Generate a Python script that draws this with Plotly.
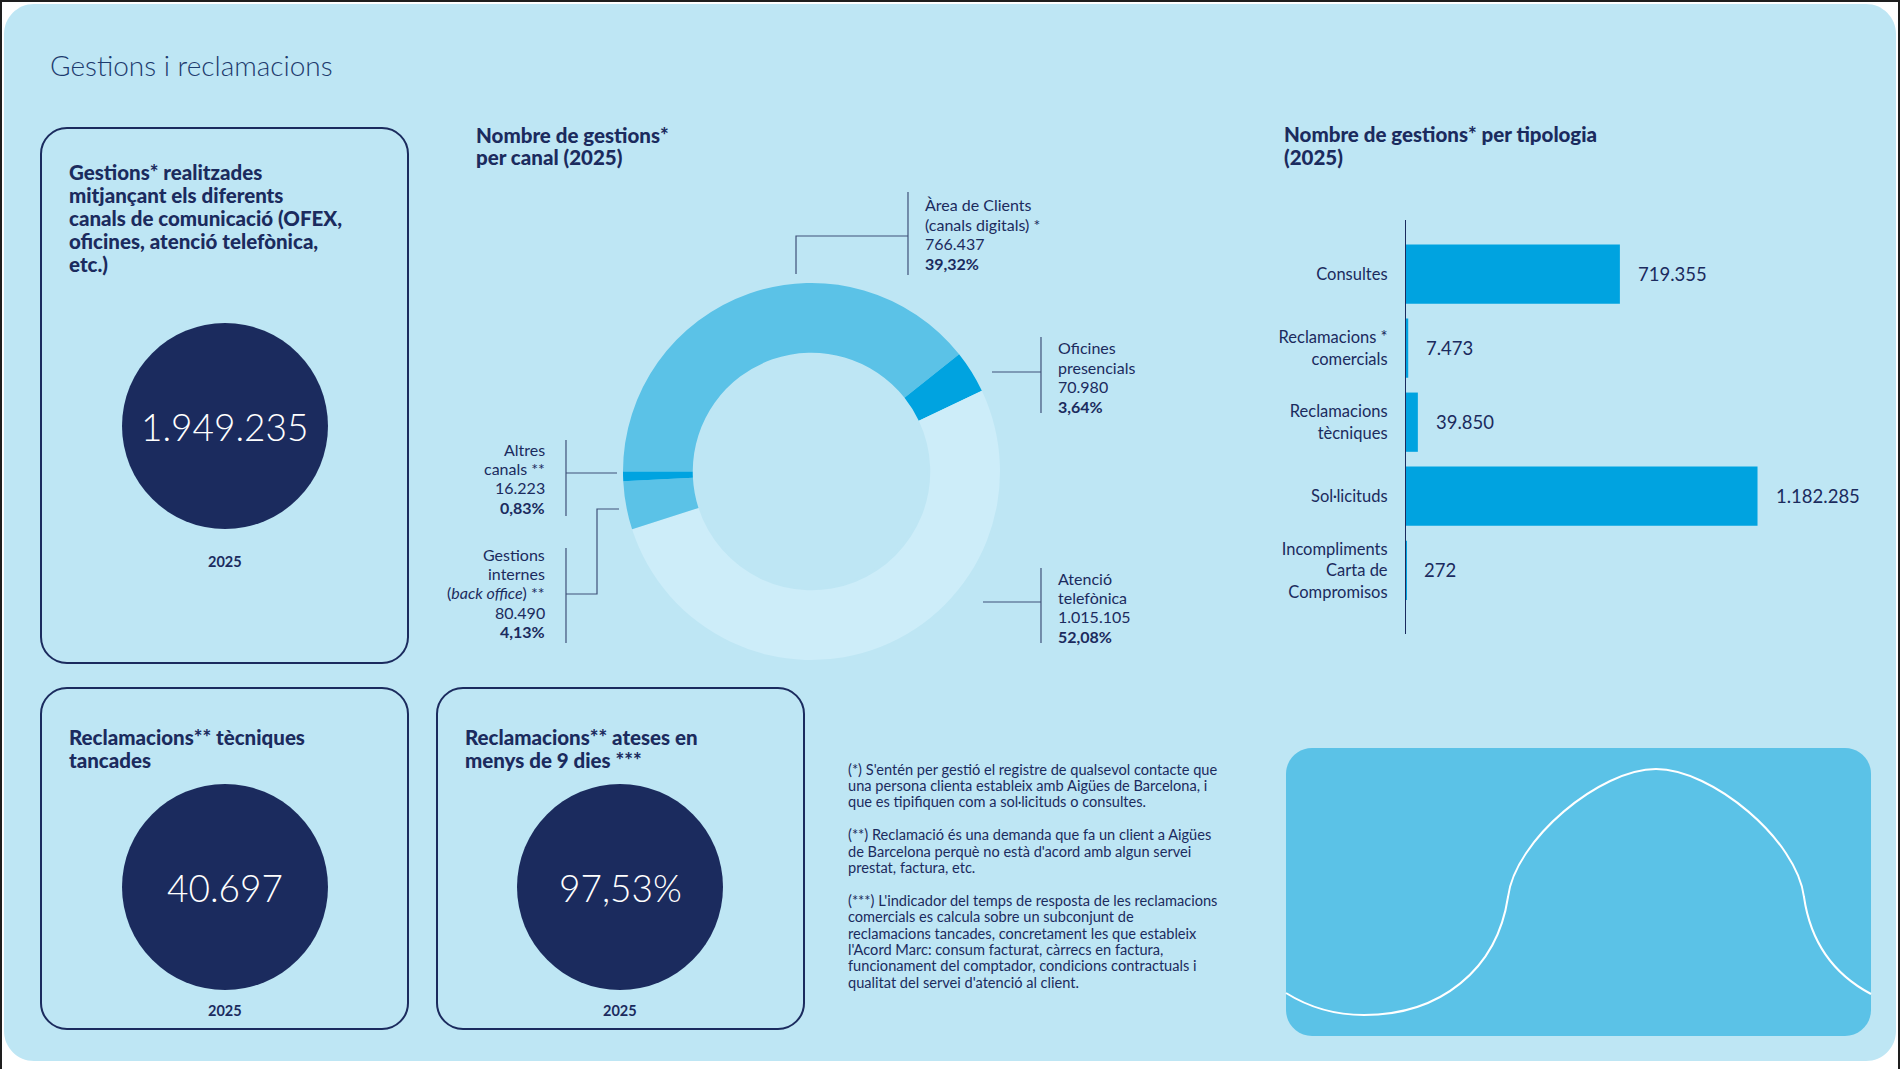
"""Gestions i reclamacions: infographic with donut, bar chart and KPI circles."""

import plotly.graph_objects as go

W, H = 1900, 1069

# colours
BG = "#BEE6F4"
NAVY = "#1B2B5E"
MID_BLUE = "#5BC2E7"
STRONG_BLUE = "#00A3E0"
PALE_BLUE = "#CDEDF9"
FONT = "Lato"

# data: channels (donut)
channel_labels = [
    ["Àrea de Clients", "(canals digitals) *"],
    ["Oficines", "presencials"],
    ["Atenció", "telefònica"],
    ["Gestions", "internes", "(<i>back office</i>) **"],
    ["Altres", "canals **"],
]
channel_values = [766437, 70980, 1015105, 80490, 16223]
channel_colors = [MID_BLUE, STRONG_BLUE, PALE_BLUE, MID_BLUE, STRONG_BLUE]

# data: typology (bars)
type_labels = [
    "Consultes",
    "Reclamacions *<br>comercials",
    "Reclamacions<br>tècniques",
    "Sol·licituds",
    "Incompliments<br>Carta de<br>Compromisos",
]
type_values = [719355, 7473, 39850, 1182285, 272]

# data: KPI boxes
kpi_year = "2025"
closed_technical = 40697
answered_under_9_days = 97.53

footnote_lines = [
    "(*) S'entén per gestió el registre de qualsevol contacte que",
    "una persona clienta estableix amb Aigües de Barcelona, i",
    "que es tipifiquen com a sol·licituds o consultes.",
    "",
    "(**) Reclamació és una demanda que fa un client a Aigües",
    "de Barcelona perquè no està d'acord amb algun servei",
    "prestat, factura, etc.",
    "",
    "(***) L'indicador del temps de resposta de les reclamacions",
    "comercials es calcula sobre un subconjunt de",
    "reclamacions tancades, concretament les que estableix",
    "l'Acord Marc: consum facturat, càrrecs en factura,",
    "funcionament del comptador, condicions contractuals i",
    "qualitat del servei d'atenció al client.",
]


def X(px):
    return px / W


def Y(py):
    return 1 - py / H


def num_ca(v):
    return f"{v:,}".replace(",", ".")


def pct_ca(p):
    return f"{p:.2f}".replace(".", ",") + "%"


def px_path(cmds):
    out = []
    for cmd, p in cmds:
        out.append(cmd + " " + " ".join(f"{X(a):.5f},{Y(b):.5f}" for a, b in p))
    return " ".join(out)


def rounded_rect(x0, y0, x1, y1, r):
    k = 0.5523 * r
    cmds = [
        ("M", [(x0 + r, y0)]),
        ("L", [(x1 - r, y0)]),
        ("C", [(x1 - r + k, y0), (x1, y0 + r - k), (x1, y0 + r)]),
        ("L", [(x1, y1 - r)]),
        ("C", [(x1, y1 - r + k), (x1 - r + k, y1), (x1 - r, y1)]),
        ("L", [(x0 + r, y1)]),
        ("C", [(x0 + r - k, y1), (x0, y1 - r + k), (x0, y1 - r)]),
        ("L", [(x0, y0 + r)]),
        ("C", [(x0, y0 + r - k), (x0 + r - k, y0), (x0 + r, y0)]),
    ]
    return px_path(cmds) + " Z"


def paper_shape(**kw):
    kw.setdefault("xref", "paper")
    kw.setdefault("yref", "paper")
    return kw


def paper_note(**kw):
    kw.setdefault("xref", "paper")
    kw.setdefault("yref", "paper")
    kw.setdefault("showarrow", False)
    return kw


def text_block(lines, x, y0, step, anchor, font):
    # one annotation per line so the leading matches the reference
    notes = []
    for i, line in enumerate(lines):
        if not line:
            continue
        notes.append(paper_note(x=X(x), y=Y(y0 + i * step), text=line, xanchor=anchor,
                                yanchor="middle", align=anchor, font=font))
    return notes


HEAD = dict(family=FONT, size=20.5, color=NAVY, weight=900)
BODY = dict(family=FONT, size=16, color=NAVY)

fig = go.Figure()

shapes = []
annotations = []

# page panel and frame
shapes.append(paper_shape(type="path", path=rounded_rect(4, 4, 1896, 1061, 30),
                          fillcolor=BG, line=dict(width=0), layer="below"))
for x0, y0, x1, y1 in [(0, 0, 1900, 2), (0, 0, 2, 1069), (1898, 0, 1900, 1069)]:
    shapes.append(paper_shape(type="rect", x0=X(x0), x1=X(x1), y0=Y(y1), y1=Y(y0),
                              fillcolor="#1E1E1E", line=dict(width=0), layer="below"))

annotations.append(paper_note(x=X(48), y=Y(65), text="Gestions i reclamacions",
                              xanchor="left", yanchor="middle",
                              font=dict(family=FONT, size=28, color="#1D3B6E", weight=300)))

# KPI boxes
total = sum(channel_values)
boxes = [
    (41, 128, 408, 663, 225, 426,
     ["Gestions* realitzades", "mitjançant els diferents", "canals de comunicació (OFEX,",
      "oficines, atenció telefònica,", "etc.)"], 171.5, num_ca(total), 561),
    (41, 688, 408, 1029, 225, 887,
     ["Reclamacions** tècniques", "tancades"], 737, num_ca(closed_technical), 1010),
    (437, 688, 804, 1029, 620, 887,
     ["Reclamacions** ateses en", "menys de 9 dies ***"], 737,
     pct_ca(answered_under_9_days), 1010),
]
for bx0, by0, bx1, by1, cx, cy, title, ty, big, yy in boxes:
    shapes.append(paper_shape(type="path", path=rounded_rect(bx0, by0, bx1, by1, 26),
                              fillcolor="rgba(0,0,0,0)", line=dict(color=NAVY, width=2),
                              layer="below"))
    shapes.append(paper_shape(type="circle", x0=X(cx - 103), x1=X(cx + 103),
                              y0=Y(cy + 103), y1=Y(cy - 103), fillcolor=NAVY,
                              line=dict(width=0), layer="below"))
    annotations += text_block(title, bx0 + 26, ty, 23.1, "left", HEAD)
    annotations.append(paper_note(x=X(cx), y=Y(cy), text=big, xanchor="center",
                                  yanchor="middle",
                                  font=dict(family=FONT, size=37, color="white", weight=300)))
    annotations.append(paper_note(x=X(cx), y=Y(yy), text="<b>" + kpi_year + "</b>",
                                  xanchor="center", yanchor="middle",
                                  font=dict(family=FONT, size=14.5, color=NAVY, weight=900)))

# donut
cx, cy, r = 811.5, 471.5, 188.5
fig.add_trace(go.Pie(
    labels=[" ".join(lbl) for lbl in channel_labels],
    values=channel_values,
    marker=dict(colors=channel_colors, line=dict(width=0)),
    hole=0.63, sort=False, direction="clockwise", rotation=-90,
    textinfo="none", hoverinfo="skip", showlegend=False,
    domain=dict(x=[X(cx - r), X(cx + r)], y=[Y(cy + r), Y(cy - r)]),
))
shapes.append(paper_shape(type="circle", x0=X(cx - 116), x1=X(cx + 116),
                          y0=Y(cy + 116), y1=Y(cy - 116), fillcolor=BG,
                          line=dict(width=0), layer="above"))
annotations += text_block(["Nombre de gestions*", "per canal (2025)"], 474, 135, 22.5,
                          "left", HEAD)

# label placement: (x, first-line y, side) and leader polylines in pixels
label_pos = [(923, 205, "left"), (1056, 348, "left"), (1056, 578, "left"),
             (547, 554, "right"), (547, 449, "right")]
leaders = [
    [[(908, 192), (908, 275)], [(796, 274), (796, 236), (908, 236)]],
    [[(1041, 337), (1041, 413)], [(992, 372), (1041, 372)]],
    [[(1041, 568), (1041, 643)], [(983, 602), (1041, 602)]],
    [[(566, 548), (566, 643)], [(566, 594), (597, 594), (597, 509), (619, 509)]],
    [[(566, 440), (566, 516)], [(566, 473), (617, 473)]],
]
for lbl, v, (lx, ly, side), segs in zip(channel_labels, channel_values, label_pos, leaders):
    lines = lbl + [num_ca(v), f"<b>{pct_ca(100 * v / total)}</b>"]
    annotations += text_block(lines, lx, ly, 19.4, side, BODY)
    for seg in segs:
        cmds = [("M", [seg[0]])] + [("L", [p]) for p in seg[1:]]
        shapes.append(paper_shape(type="path", path=px_path(cmds),
                                  line=dict(color="#3F5078", width=1.2)))

# bars
fig.add_trace(go.Bar(
    y=type_labels, x=type_values, orientation="h",
    marker=dict(color=STRONG_BLUE, line=dict(width=0)),
    hoverinfo="skip", showlegend=False, cliponaxis=False,
    xaxis="x", yaxis="y",
))
for lbl, v in zip(type_labels, type_values):
    annotations.append(dict(x=v, y=lbl, xref="x", yref="y", text=num_ca(v),
                            xanchor="left", yanchor="middle", xshift=16,
                            showarrow=False, font=dict(family=FONT, size=18.5, color=NAVY)))
annotations += text_block(["Nombre de gestions* per tipologia", "(2025)"], 1282, 134, 23,
                          "left", HEAD)

# footnotes
annotations += text_block(footnote_lines, 846, 769, 16.4, "left",
                          dict(family=FONT, size=14.6, color=NAVY))

# decorative panel with wave
shapes.append(paper_shape(type="path", path=rounded_rect(1286, 748, 1871, 1036, 26),
                          fillcolor=MID_BLUE, line=dict(width=0), layer="below"))
wave = [
    ("M", [(1286, 993)]),
    ("C", [(1310, 1008), (1336, 1015), (1364, 1015)]),
    ("C", [(1440, 1015), (1497, 970), (1508, 897)]),
    ("C", [(1515, 840), (1600, 769), (1656, 769)]),
    ("C", [(1712, 769), (1797, 840), (1804, 897)]),
    ("C", [(1811, 945), (1835, 975), (1871, 994)]),
]
shapes.append(paper_shape(type="path", path=px_path(wave), line=dict(color="white", width=2)))

fig.update_layout(
    width=W, height=H,
    margin=dict(l=0, r=0, t=0, b=0),
    paper_bgcolor="white", plot_bgcolor="rgba(0,0,0,0)",
    font=dict(family=FONT, color=NAVY),
    bargap=0.2,
    xaxis=dict(domain=[X(1406), X(1870)], range=[0, 1.32 * max(type_values)],
               visible=False, fixedrange=True),
    yaxis=dict(domain=[Y(634), Y(220)], type="category", range=[4.86, -0.73],
               showline=True, linecolor=NAVY, linewidth=1.2, ticks="",
               showgrid=False, zeroline=False, ticklabelstandoff=14,
               tickfont=dict(family=FONT, size=16.5, color=NAVY), fixedrange=True),
    shapes=shapes,
    annotations=annotations,
)

fig.write_html("out.html", config={"displayModeBar": False},
               post_script="document.body.style.margin='0';")
